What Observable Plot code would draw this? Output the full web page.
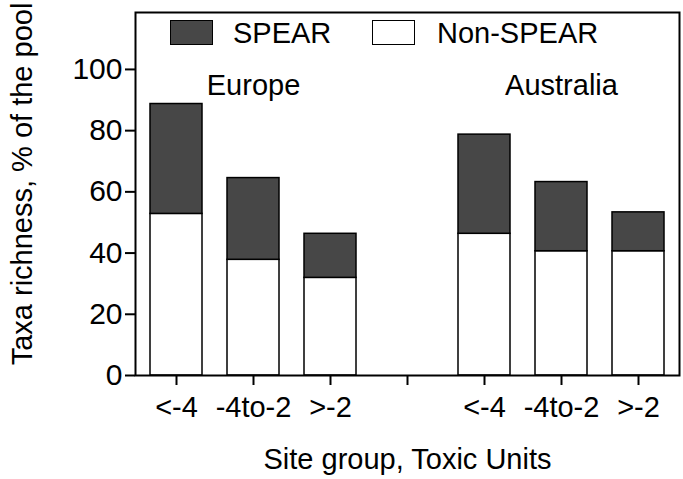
<!DOCTYPE html>
<html>
<head>
<meta charset="utf-8">
<script src="https://cdn.jsdelivr.net/npm/d3@7"></script>
<script src="https://cdn.jsdelivr.net/npm/@observablehq/plot@0.6"></script>
<style>
  html, body { margin: 0; padding: 0; background: #fff; }
  #wrap { position: relative; width: 683px; height: 479px; font-family: "Liberation Sans", Arial, sans-serif; }
  .sw { position: absolute; box-sizing: border-box; border: 1.5px solid #000; width: 43px; height: 25px; top: 20px; }
  .lt { position: absolute; font-size: 29px; top: 17px; line-height: 32px; color: #000; }
</style>
</head>
<body>
<div id="wrap"></div>
<script>
// Categories (slots along the x axis; "gap" is the empty slot between regions)
const slots = ["E1", "E2", "E3", "gap", "A1", "A2", "A3"];
const slotLabels = ["<-4", "-4to-2", ">-2", "", "<-4", "-4to-2", ">-2"];
const barSlots = ["E1", "E2", "E3", "A1", "A2", "A3"];
// Series values (% of the pool)
const nonSpear = [52.8, 37.8, 31.9, 46.3, 40.6, 40.6];
const spear = [35.9, 26.7, 14.4, 32.4, 22.6, 12.7];
const yTicks = [0, 20, 40, 60, 80, 100];
const regions = [{slot: "E2", name: "Europe"}, {slot: "A2", name: "Australia"}];

const rows = [];
barSlots.forEach((s, i) => {
  rows.push({slot: s, group: "Non-SPEAR", y1: 0, y2: nonSpear[i]});
  rows.push({slot: s, group: "SPEAR", y1: nonSpear[i], y2: nonSpear[i] + spear[i]});
});

const labelOf = new Map(slots.map((s, i) => [s, slotLabels[i]]));

const chart = Plot.plot({
  width: 683,
  height: 479,
  marginLeft: 135,
  marginRight: 4,
  marginTop: 12,
  marginBottom: 104,
  style: {fontFamily: "Liberation Sans, Arial, sans-serif", background: "#fff", color: "#000", overflow: "visible"},
  x: {domain: slots, paddingInner: 0.32, paddingOuter: 0.16, label: null},
  y: {domain: [0, 118.6], label: null},
  color: {domain: ["SPEAR", "Non-SPEAR"], range: ["#474747", "#ffffff"]},
  marks: [
    Plot.barY(rows, {x: "slot", y1: "y1", y2: "y2", fill: "group", stroke: "#000", strokeWidth: 1.5}),
    Plot.frame({stroke: "#000", strokeWidth: 2}),
    Plot.axisY({ticks: yTicks, tickSize: 10, tickPadding: 3, fontSize: 30, strokeWidth: 2, label: null}),
    Plot.axisX({tickSize: 10, tickPadding: 11, fontSize: 29, strokeWidth: 2, tickFormat: d => labelOf.get(d), label: null}),
    Plot.text(regions, {x: "slot", text: "name", frameAnchor: "top", lineAnchor: "middle", dy: 73, fontSize: 29, fill: "#000"}),
    Plot.text(["Site group, Toxic Units"], {frameAnchor: "bottom", lineAnchor: "middle", dy: 84, text: d => d, fontSize: 29, fill: "#000"}),
    Plot.text(["Taxa richness, % of the pool"], {frameAnchor: "left", textAnchor: "middle", dx: -113, dy: -10, rotate: -90, text: d => d, fontSize: 29, fill: "#000"})
  ]
});

const wrap = document.getElementById("wrap");
wrap.appendChild(chart);
const legend = [
  {name: "SPEAR", fill: "#474747", sx: 170, tx: 233},
  {name: "Non-SPEAR", fill: "#ffffff", sx: 372, tx: 437}
];
legend.forEach(l => {
  const sw = document.createElement("div");
  sw.className = "sw"; sw.style.left = l.sx + "px"; sw.style.background = l.fill;
  wrap.appendChild(sw);
  const t = document.createElement("div");
  t.className = "lt"; t.style.left = l.tx + "px"; t.textContent = l.name;
  wrap.appendChild(t);
});
</script>
</body>
</html>
